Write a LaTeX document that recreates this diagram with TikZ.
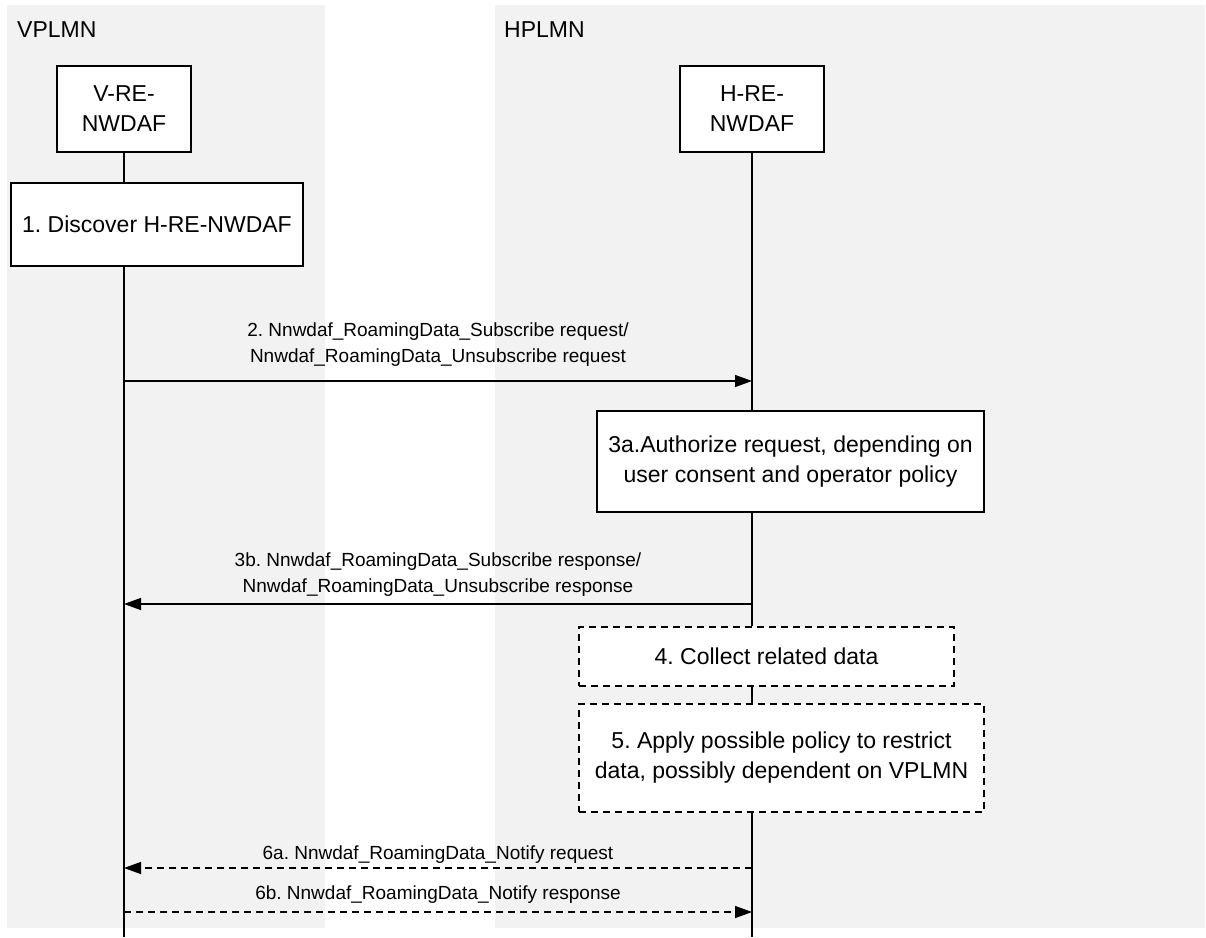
\documentclass[tikz,border=0pt]{standalone}
\usepackage{fontspec}
\setmainfont{Liberation Sans}
\usetikzlibrary{arrows.meta}
\definecolor{bandgray}{HTML}{F2F2F2}
\frenchspacing

\begin{document}
\begin{tikzpicture}[x=1pt,y=-1pt,
    box/.style={draw,fill=white,line width=1.2pt,align=center,inner sep=0pt,
      font=\fontsize{23}{30}\selectfont},
    dbox/.style={box,dash pattern=on 7pt off 5pt},
    life/.style={line width=1.2pt},
    msg/.style={line width=1.2pt,-{Triangle[length=17pt,width=12pt]}},
    dmsg/.style={msg,dash pattern=on 7pt off 5pt},
    lbl/.style={align=center,inner sep=0pt,font=\fontsize{19}{26}\selectfont}]
  \useasboundingbox (0,0) rectangle (1206,937);
  % network bands
  \fill[bandgray] (7,5) rectangle (325,928);
  \fill[bandgray] (495,5) rectangle (1205,928);
  \node[anchor=base west,inner sep=0pt,font=\fontsize{23}{30}\selectfont] (vplmn) at (17,37) {VPLMN};
  \node[anchor=base west,inner sep=0pt,font=\fontsize{23}{30}\selectfont] (hplmn) at (504,37) {HPLMN};
  % entities and steps
  \node[box,minimum width=134pt,minimum height=86pt] (vre) at (124,109) {V-RE-\\NWDAF};
  \node[box,minimum width=144pt,minimum height=86pt] (hre) at (752,109) {H-RE-\\NWDAF};
  \node[box,minimum width=292pt,minimum height=83pt] (disc) at (157,224.5) {1. Discover H-RE-NWDAF};
  \node[box,minimum width=387pt,minimum height=101pt] (auth) at (790.5,461.5) {3a.Authorize request, depending on\\user consent and operator policy};
  \node[dbox,minimum width=375pt,minimum height=59pt] (coll) at (766.5,656.5) {4. Collect related data};
  \node[dbox,minimum width=405pt,minimum height=108pt] (restr) at (781.5,758) {5. Apply possible policy to restrict\\data, possibly dependent on VPLMN};
  \coordinate (vend) at (124,937);
  \coordinate (hend) at (752,937);
  % lifelines
  \draw[life] (vre.south) -- (vre.south |- disc.north);
  \draw[life] (vre.south |- disc.south) -- (vend);
  \draw[life] (hre.south) -- (hre.south |- auth.north);
  \draw[life] (hre.south |- auth.south) -- (hre.south |- coll.north);
  \draw[life] (hre.south |- coll.south) -- (hre.south |- restr.north);
  \draw[life] (hre.south |- restr.south) -- (hend);
  % messages
  \coordinate (m2) at (0,381);
  \coordinate (m3b) at (0,604);
  \coordinate (m6a) at (0,868);
  \coordinate (m6b) at (0,912);
  \draw[msg] (vre |- m2) -- (hre |- m2)
    node[lbl,midway,above=14pt] {2. Nnwdaf\_RoamingData\_Subscribe request/\\Nnwdaf\_RoamingData\_Unsubscribe request};
  \draw[msg] (hre |- m3b) -- (vre |- m3b)
    node[lbl,midway,above=7pt] {3b. Nnwdaf\_RoamingData\_Subscribe response/\\Nnwdaf\_RoamingData\_Unsubscribe response};
  \draw[dmsg] (hre |- m6a) -- (vre |- m6a)
    node[lbl,midway,above=4pt] {6a. Nnwdaf\_RoamingData\_Notify request};
  \draw[dmsg] (vre |- m6b) -- (hre |- m6b)
    node[lbl,midway,above=8pt] {6b. Nnwdaf\_RoamingData\_Notify response};
\end{tikzpicture}
\end{document}
